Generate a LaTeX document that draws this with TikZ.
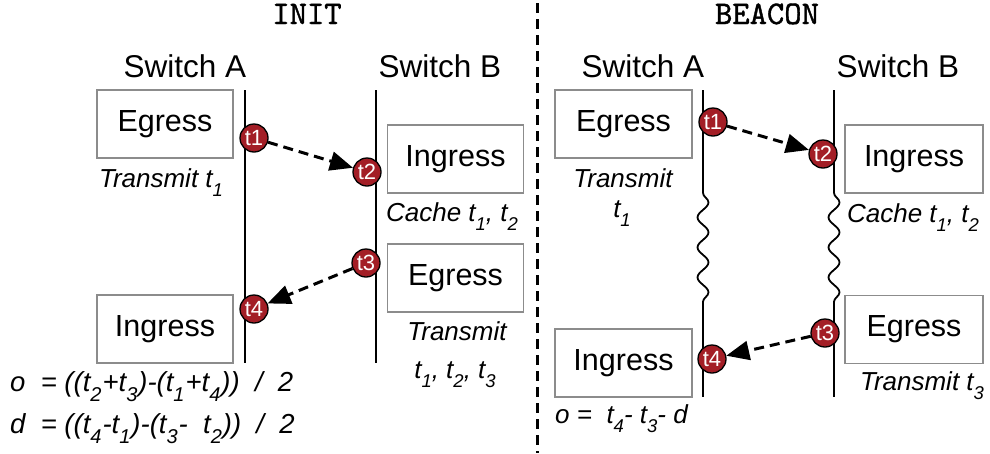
\documentclass[tikz,border=0pt]{standalone}
\usepackage{fontspec}
\setmainfont{Liberation Sans}
\newfontfamily\headfont[FakeBold=1.2]{lmmono10-regular.otf}
\usetikzlibrary{arrows.meta,decorations.pathmorphing}

% lowered subscript digits for the timestamp names (notes and formulas)
\newcommand\sub[1]{\raisebox{-9.5pt}{\fontsize{18.5}{18.5}\selectfont #1}}
\newcommand\esub[1]{\raisebox{-10pt}{\fontsize{20}{20}\selectfont #1}\kern1pt}

\definecolor{stampred}{HTML}{A31E26}
\definecolor{boxgray}{HTML}{8C8C8C}

\tikzset{
  box/.style={draw=boxgray, line width=1.6pt, minimum width=136pt, minimum height=68pt,
    inner sep=0pt, font=\fontsize{30.5}{30.5}\selectfont},
  stamp/.style={circle, fill=stampred, draw=black, line width=1.3pt, minimum size=28pt,
    inner sep=0pt, text=white, font=\fontsize{22}{22}\selectfont},
  msg/.style={line width=3pt, dash pattern=on 10pt off 6pt,
    -{Triangle[length=23pt,width=19pt]}},
  lifeline/.style={line width=1.8pt},
  wave/.style={lifeline, decorate, decoration={snake, segment length=30pt, amplitude=5.5pt}},
  note/.style={font=\fontsize{26}{26}\selectfont\itshape, anchor=base, inner sep=0pt},
  eqn/.style={font=\fontsize{27.5}{27.5}\selectfont\itshape, anchor=base west, inner sep=0pt},
  heading/.style={font=\fontsize{33}{33}\selectfont\headfont, anchor=base, inner sep=0pt},
  switch/.style={font=\fontsize{31.5}{31.5}\selectfont, anchor=base, inner sep=0pt},
}

\begin{document}
\begin{tikzpicture}[x=1pt, y=-1pt]
\useasboundingbox (0,0) rectangle (990,453);

% ---------- separator ----------
\coordinate (sepT) at (537,3);
\coordinate (sepB) at (537,453);
\draw[line width=3pt, dash pattern=on 10pt off 6pt] (sepT) -- (sepB);

% ---------- headings ----------
\node[heading] (hInit) at (307,24) {INIT};
\node[heading] (hBeacon) at (767,24) {BEACON};

\node[switch] (swA1) at (185,77) {Switch A};
\node[switch] (swB1) at (440,77) {Switch B};
\node[switch] (swA2) at (643,77) {Switch A};
\node[switch] (swB2) at (898,77) {Switch B};

% ---------- INIT lifelines ----------
\coordinate (lA1t) at (245,90);  \coordinate (lA1b) at (245,363);
\coordinate (lB1t) at (376,90);  \coordinate (lB1b) at (376,363);
\draw[lifeline] (lA1t) -- (lA1b);
\draw[lifeline] (lB1t) -- (lB1b);

% ---------- INIT boxes ----------
\node[box] (egA1) at (165,124) {Egress};
\node[box] (inB1) at (455.5,159) {Ingress};
\node[box] (egB1) at (455.5,278) {Egress};
\node[box] (inA1) at (165,329) {Ingress};

\node[note] (txA1) at (161,187) {Transmit t\sub1};
\node[note] (caB1) at (452,221) {Cache t\sub1, t\sub2};
\node[note] (txB1a) at (457,340) {Transmit};
\node[note] (txB1b) at (455,378) {t\sub1, t\sub2, t\sub3};
\node[eqn] (eqO) at (10,391) {o\ \ = ((t\esub2+t\esub3)-(t\esub1+t\esub4))\ \ /\ \ 2};
\node[eqn] (eqD) at (10,433) {d\ \ = ((t\esub4-t\esub1)-(t\esub3-\ \ t\esub2))\ \ /\ \ 2};

% ---------- INIT timestamps ----------
\node[stamp] (i1) at (254,138) {t1};
\node[stamp] (i2) at (367,172) {t2};
\node[stamp] (i3) at (366,263) {t3};
\node[stamp] (i4) at (254,309) {t4};
\draw[msg] (i1) -- (i2);
\draw[msg] (i3) -- (i4);

% ---------- BEACON lifelines ----------
\coordinate (lA2t) at (703,90);  \coordinate (lA2w) at (703,193);
\coordinate (lA2v) at (703,312); \coordinate (lA2b) at (703,397);
\coordinate (lB2t) at (834,90);  \coordinate (lB2w) at (834,193);
\coordinate (lB2v) at (834,310); \coordinate (lB2b) at (834,397);
\draw[lifeline] (lA2t) -- (lA2w);
\draw[wave] (lA2w) -- (lA2v);
\draw[lifeline] (lA2v) -- (lA2b);
\draw[lifeline] (lB2t) -- (lB2w);
\draw[wave] (lB2w) -- (lB2v);
\draw[lifeline] (lB2v) -- (lB2b);

% ---------- BEACON boxes ----------
\node[box, minimum width=137pt] (egA2) at (623.5,124) {Egress};
\node[box, minimum width=138pt] (inB2) at (914,159) {Ingress};
\node[box, minimum width=138pt] (egB2) at (914,329.5) {Egress};
\node[box, minimum width=137pt] (inA2) at (623.5,363) {Ingress};

\node[note] (txA2a) at (623,187) {Transmit};
\node[note] (txA2b) at (622,217) {t\sub1};
\node[note] (caB2) at (913,222) {Cache t\sub1, t\sub2};
\node[note] (txB2) at (922,390) {Transmit t\sub3};
\node[note, anchor=base west] (eqO2) at (555,423) {o =\ \ t\sub4- t\sub3- d};

% ---------- BEACON timestamps ----------
\node[stamp] (b1) at (713,122) {t1};
\node[stamp] (b2) at (823,154) {t2};
\node[stamp] (b3) at (825,333) {t3};
\node[stamp] (b4) at (712,359) {t4};
\draw[msg] (b1) -- (b2);
\draw[msg] (b3) -- (b4);
\end{tikzpicture}
\end{document}
